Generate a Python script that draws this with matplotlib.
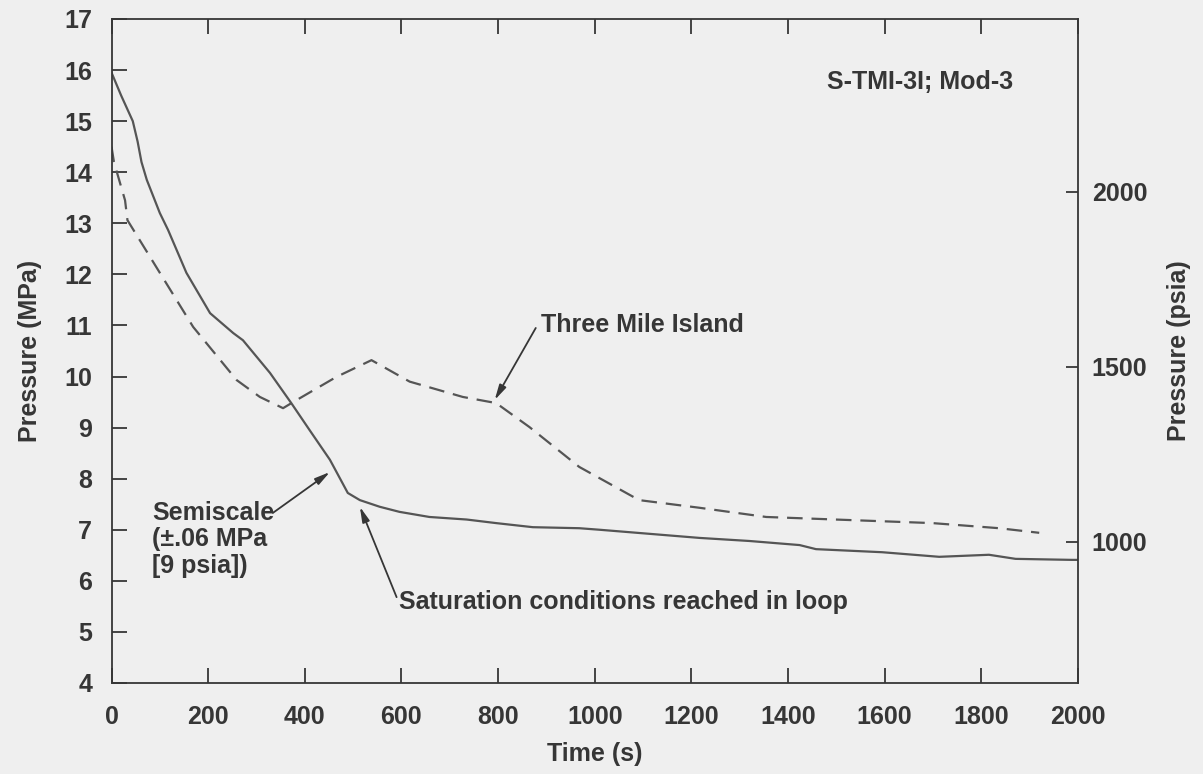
import matplotlib
matplotlib.use("Agg")
import matplotlib.pyplot as plt
import numpy as np

plt.rcParams['font.family'] = ['Liberation Sans', 'DejaVu Sans']

# Semiscale (solid) data: time (s), pressure (MPa)
semi_t = [0, 20, 44, 54, 62, 73, 100, 117, 155, 204, 252, 272, 328, 372, 410, 452,
          489, 514, 555, 596, 658, 735, 796, 872, 968, 1010, 1217, 1320, 1424,
          1458, 1595, 1713, 1816, 1871, 1988, 2000]
semi_p = [15.95, 15.5, 15.0, 14.6, 14.2, 13.85, 13.2, 12.87, 12.03, 11.24, 10.85, 10.71,
          10.07, 9.48, 8.95, 8.37, 7.72, 7.58, 7.45, 7.35, 7.25, 7.2, 7.13, 7.05,
          7.03, 7.0, 6.84, 6.78, 6.70, 6.62, 6.56, 6.47, 6.51, 6.43, 6.41, 6.41]

# Three Mile Island (dashed) data
tmi_t = [0, 5, 28, 33, 100, 169, 259, 307, 355, 376, 465, 538, 555, 617, 727,
         796, 865, 968, 1092, 1217, 1278, 1355, 1527, 1699, 1837, 1920]
tmi_p = [14.5, 14.2, 13.45, 13.06, 12.03, 10.97, 9.93, 9.6, 9.38, 9.5, 9.99,
         10.32, 10.23, 9.9, 9.6, 9.48, 9.01, 8.23, 7.58, 7.43, 7.35, 7.25, 7.19,
         7.13, 7.03, 6.94]

x_ticks = [0, 200, 400, 600, 800, 1000, 1200, 1400, 1600, 1800, 2000]
y_ticks = [4, 5, 6, 7, 8, 9, 10, 11, 12, 13, 14, 15, 16, 17]
psia_ticks = [1000, 1500, 2000]

bg = '#efefef'
ink = '#363636'
line_c = '#555555'
fw = 'bold'

fig = plt.figure(figsize=(12.03, 7.74), dpi=100, facecolor=bg)
ax = fig.add_axes([0.0927, 0.1176, 0.8033, 0.8579])
ax.set_facecolor(bg)

ax.plot(semi_t, semi_p, color=line_c, lw=1.6, solid_joinstyle='round')
ax.plot(tmi_t, tmi_p, color=line_c, lw=1.6, dashes=(7, 4))

ax.set_xlim(0, 2000)
ax.set_ylim(4, 17)
ax.set_xticks(x_ticks)
ax.set_yticks(y_ticks)
fs = 18
ax.tick_params(axis='both', direction='in', length=11, width=1.3, color=ink,
               labelsize=fs, labelcolor=ink)
ax.tick_params(axis='x', pad=16, top=True)
ax.tick_params(axis='y', pad=14)
for lab in ax.get_xticklabels() + ax.get_yticklabels():
    lab.set_fontweight(fw)
for s in ax.spines.values():
    s.set_color(ink)
    s.set_linewidth(1.3)

ax.set_xlabel('Time (s)', fontsize=fs, color=ink, labelpad=9, fontweight=fw)
ax.set_ylabel('Pressure (MPa)', fontsize=fs, color=ink, labelpad=16, fontweight=fw)

# Right axis in psia
ax2 = ax.twinx()
ax2.set_ylim(597, 2494)
ax2.set_yticks(psia_ticks)
ax2.tick_params(axis='y', direction='in', length=9, width=1.3, color=ink,
                labelsize=fs, labelcolor=ink, pad=10)
for lab in ax2.get_yticklabels():
    lab.set_fontweight(fw)
for s in ax2.spines.values():
    s.set_visible(False)
ax2.set_ylabel('Pressure (psia)', fontsize=fs, color=ink, labelpad=14, fontweight=fw)

ax.text(0.74, 0.905, 'S-TMI-3I; Mod-3', transform=ax.transAxes, fontsize=fs,
        color=ink, ha='left', va='center', fontweight=fw)

arrow = dict(arrowstyle='-|>,head_length=0.9,head_width=0.22', color=ink, lw=1.3,
             shrinkA=0, shrinkB=0)

# Three Mile Island
ax.text(888, 11.0, 'Three Mile Island', fontsize=fs, color=ink, ha='left',
        va='center', fontweight=fw)
ax.annotate('', xy=(793, 9.54), xytext=(878, 10.95), arrowprops=arrow)

# Semiscale
ax.text(84, 7.56, 'Semiscale\n(±.06 MPa\n[9 psia])', fontsize=fs, color=ink,
        ha='left', va='top', linespacing=1.12, fontweight=fw)
ax.annotate('', xy=(452, 8.13), xytext=(334, 7.33), arrowprops=arrow)

# Saturation
ax.text(595, 5.58, 'Saturation conditions reached in loop', fontsize=fs,
        color=ink, ha='left', va='center', fontweight=fw)
ax.annotate('', xy=(514, 7.45), xytext=(590, 5.68), arrowprops=arrow)

fig.savefig('out.png', dpi=100, facecolor=bg)
